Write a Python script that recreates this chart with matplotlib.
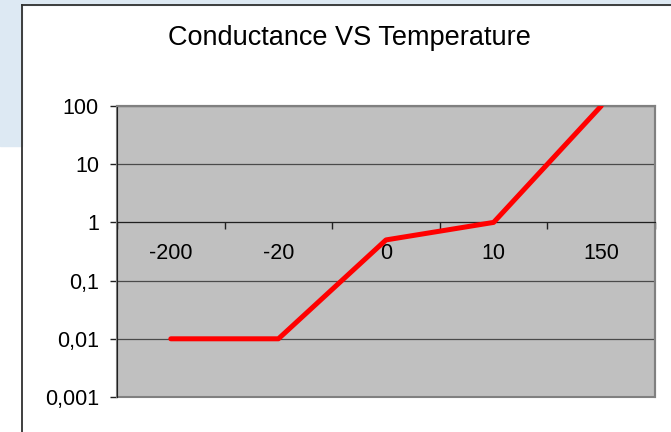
import matplotlib.pyplot as plt
from matplotlib.patches import Rectangle
from matplotlib.lines import Line2D
from matplotlib.ticker import FixedLocator, FixedFormatter, NullLocator

plt.rcParams['font.family'] = ['Liberation Sans', 'DejaVu Sans']

# data
temps = ['-200', '-20', '0', '10', '150']
conductance = [0.01, 0.01, 0.5, 1, 100]
y_ticks = [0.001, 0.01, 0.1, 1, 10, 100]
y_labels = ['0,001', '0,01', '0,1', '1', '10', '100']

W, H = 671, 432
fig = plt.figure(figsize=(W / 100, H / 100), dpi=100)
fig.patch.set_facecolor('white')

# slide background behind the chart frame
blue = '#dde9f3'
fig.add_artist(Rectangle((0, 1 - 4.5 / H), 1, 4.5 / H, transform=fig.transFigure,
                         color=blue, zorder=0))
fig.add_artist(Rectangle((0, 1 - 146 / H), 22 / W, 146 / H, transform=fig.transFigure,
                         color=blue, zorder=0))
fig.add_artist(Line2D([22 / W, 22 / W], [0, 1 - 4.5 / H], color='#303030', lw=1.3,
                      transform=fig.transFigure))
fig.add_artist(Line2D([22 / W, 1], [1 - 4.5 / H, 1 - 4.5 / H], color='#303030', lw=1.3,
                      transform=fig.transFigure))

fig.text(349 / W, 1 - 38 / H, 'Conductance VS Temperature', ha='center', va='center',
         fontsize=19.5)

ax = fig.add_axes([117 / W, 35 / H, 538 / W, 291 / H])
ax.set_facecolor('#c0c0c0')
ax.set_yscale('log')
ax.spines['bottom'].set_position(('data', 1))

x = list(range(len(temps)))
ax.plot(x, conductance, color='#ff0000', lw=3.6, solid_capstyle='round',
        solid_joinstyle='round', zorder=4)

ax.set_ylim(0.001, 100)
ax.set_xlim(-0.5, len(temps) - 0.5)

ax.yaxis.set_major_locator(FixedLocator(y_ticks))
ax.yaxis.set_major_formatter(FixedFormatter(y_labels))
ax.yaxis.set_minor_locator(NullLocator())
ax.grid(axis='y', color='#4a4a4a', lw=0.9)
ax.set_axisbelow(True)

ax.set_xticks([i - 0.5 for i in range(len(temps) + 1)])
ax.set_xticklabels([])
ax.set_xticks(x, minor=True)
ax.set_xticklabels(temps, minor=True)

ax.tick_params(axis='y', direction='out', length=5, width=1, color='#202020',
               labelsize=15.5, pad=8)
ax.tick_params(axis='x', which='major', direction='out', length=5, width=1,
               color='#202020')
ax.tick_params(axis='x', which='minor', length=0, pad=15, labelsize=15.5)

for s in ['top', 'right']:
    ax.spines[s].set_color('#808080')
    ax.spines[s].set_linewidth(1.5)
ax.spines['left'].set_color('#202020')
ax.spines['bottom'].set_color('#202020')
ax.add_patch(Rectangle((0, 0), 1, 1, transform=ax.transAxes, fill=False,
                       edgecolor='#808080', lw=1.5, clip_on=False, zorder=1))

fig.savefig('out.png', dpi=100)
